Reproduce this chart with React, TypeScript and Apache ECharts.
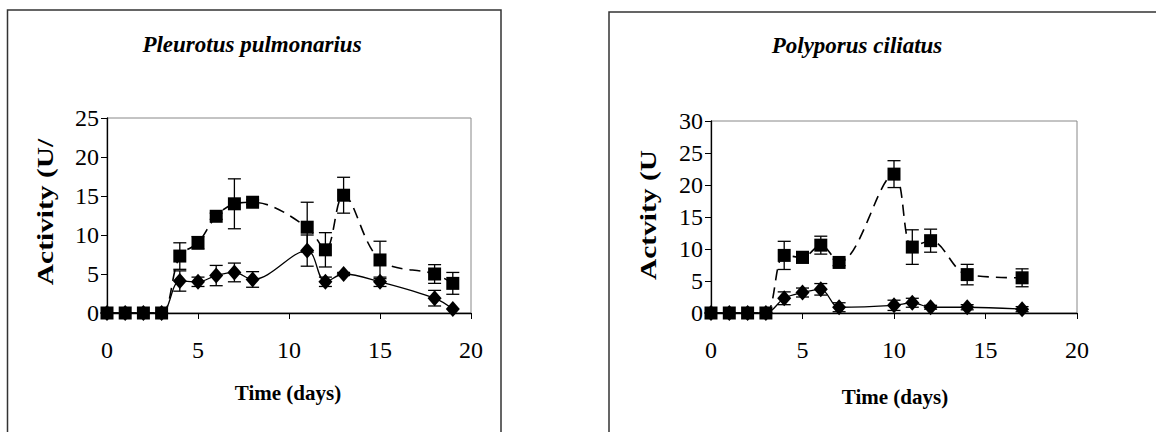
import React, { useEffect, useRef } from "react";
import * as echarts from "echarts";

// Pleurotus pulmonarius
const daysP = [0, 1, 2, 3, 4, 5, 6, 7, 8, 11, 12, 13, 15, 18, 19];
const squareP = [0, 0, 0, 0, 7.3, 9.0, 12.4, 14.0, 14.2, 11.0, 8.1, 15.1, 6.8, 5.0, 3.8];
const squareErrP = [0, 0, 0, 0, 1.7, 0.8, 0.4, 3.2, 0.3, 3.2, 2.2, 2.3, 2.4, 1.2, 1.4];
const diamondP = [0, 0, 0, 0, 4.1, 4.0, 4.8, 5.2, 4.3, 8.0, 4.0, 5.0, 4.0, 1.9, 0.5];
const diamondErrP = [0, 0, 0, 0, 1.3, 0.6, 1.3, 1.2, 1.0, 2.0, 0.6, 0.2, 0.6, 1.0, 0];

// Polyporus ciliatus
const daysC = [0, 1, 2, 3, 4, 5, 6, 7, 10, 11, 12, 14, 17];
const squareC = [0, 0, 0, 0, 9.0, 8.7, 10.6, 7.9, 21.7, 10.3, 11.3, 6.0, 5.5];
const squareErrC = [0, 0, 0, 0, 2.2, 0.9, 1.4, 0.5, 2.1, 2.7, 1.8, 1.6, 1.4];
const diamondC = [0, 0, 0, 0, 2.3, 3.2, 3.7, 0.9, 1.2, 1.6, 0.9, 0.9, 0.6];
const diamondErrC = [0, 0, 0, 0, 1.0, 0.7, 0.9, 0.7, 0.8, 0.7, 0.3, 0.4, 0.4];

const titles = ["Pleurotus pulmonarius", "Polyporus ciliatus"];
const yNames = ["Activity (U/", "Actvity (U"];
const xName = "Time (days)";
const xTicks = [0, 5, 10, 15, 20];
const yMaxes = [25, 30];

const SERIF = "Liberation Serif";

function pairs(xs: number[], ys: number[]) {
  return xs.map((x, i) => [x, ys[i]]);
}
function errData(xs: number[], ys: number[], es: number[]) {
  return xs
    .map((x, i) => [x, ys[i] - es[i], ys[i] + es[i]])
    .filter((d, i) => es[i] > 0);
}

const renderErr = (params: any, api: any) => {
  const x = api.value(0);
  const lo = api.value(1);
  const hi = api.value(2);
  const p1 = api.coord([x, hi]);
  const p2 = api.coord([x, lo]);
  const hw = 6.5;
  const st = { stroke: "#000", lineWidth: 1.3 };
  return {
    type: "group",
    children: [
      { type: "line", shape: { x1: p1[0], y1: p1[1], x2: p2[0], y2: p2[1] }, style: st },
      { type: "line", shape: { x1: p1[0] - hw, y1: p1[1], x2: p1[0] + hw, y2: p1[1] }, style: st },
      { type: "line", shape: { x1: p2[0] - hw, y1: p2[1], x2: p2[0] + hw, y2: p2[1] }, style: st },
    ],
  };
};

export default function App() {
  const ref = useRef<HTMLDivElement>(null);
  useEffect(() => {
    if (!ref.current) return;
    const chart = echarts.init(ref.current, null, { renderer: "svg" });
    const grids = [
      { left: 107, top: 118, width: 364, height: 195 },
      { left: 711, top: 121, width: 366, height: 192 },
    ];
    const axisCommon = {
      axisLine: { show: true, lineStyle: { color: "#000", width: 1.3 } },
      axisTick: { show: true, inside: false, length: 6, lineStyle: { color: "#000", width: 1 } },
      splitLine: { show: false },
    };
    const labelStyle = {
      color: "#000",
      fontFamily: SERIF,
      fontSize: 24,
      fontWeight: "normal",
      fontStyle: "normal",
    };
    const xAxes = [0, 1].map((i) => ({
      type: "value",
      gridIndex: i,
      min: 0,
      max: 20,
      interval: 5,
      ...axisCommon,
      axisLabel: {
        ...labelStyle,
        margin: 25,
        formatter: (v: number) => (xTicks.includes(v) ? String(v) : ""),
      },
    }));
    const yAxes = [0, 1].map((i) => ({
      type: "value",
      gridIndex: i,
      min: 0,
      max: yMaxes[i],
      interval: 5,
      ...axisCommon,
      axisLabel: { ...labelStyle, margin: 8 },
    }));
    const sets = [
      { d: daysP, s: squareP, se: squareErrP, m: diamondP, me: diamondErrP },
      { d: daysC, s: squareC, se: squareErrC, m: diamondC, me: diamondErrC },
    ];
    const series: any[] = [];
    sets.forEach((st, i) => {
      series.push({
        type: "custom",
        xAxisIndex: i,
        yAxisIndex: i,
        renderItem: renderErr,
        data: errData(st.d, st.s, st.se),
        encode: { x: 0, y: [1, 2] },
        z: 1,
        clip: false,
      });
      series.push({
        type: "custom",
        xAxisIndex: i,
        yAxisIndex: i,
        renderItem: renderErr,
        data: errData(st.d, st.m, st.me),
        encode: { x: 0, y: [1, 2] },
        z: 1,
        clip: false,
      });
      series.push({
        type: "line",
        xAxisIndex: i,
        yAxisIndex: i,
        data: pairs(st.d, st.s),
        smooth: 0.35,
        symbol: "rect",
        symbolSize: 13,
        itemStyle: { color: "#000" },
        lineStyle: { color: "#000", width: 1.6, type: [11, 7] },
        z: 3,
      });
      series.push({
        type: "line",
        xAxisIndex: i,
        yAxisIndex: i,
        data: pairs(st.d, st.m),
        smooth: 0.35,
        symbol: "diamond",
        symbolSize: [14, 16],
        itemStyle: { color: "#000" },
        lineStyle: { color: "#000", width: 1.3 },
        z: 4,
      });
    });
    const titleStyle = {
      fontFamily: SERIF,
      fontSize: 23,
      fontWeight: "bold",
      fontStyle: "italic",
      fill: "#000",
      align: "center",
      verticalAlign: "middle",
    };
    const nameStyle = {
      fontFamily: SERIF,
      fontSize: 23,
      fontWeight: "bold",
      fill: "#000",
      align: "center",
      verticalAlign: "middle",
    };
    chart.setOption({
      animation: false,
      textStyle: { fontFamily: SERIF, color: "#000" },
      grid: grids.map((g) => ({ ...g, show: true, borderColor: "#888", borderWidth: 1, backgroundColor: "transparent" })),
      xAxis: xAxes,
      yAxis: yAxes,
      series,
      graphic: [
        { type: "rect", shape: { x: 7.5, y: 10, width: 493.5, height: 440 }, style: { fill: "none", stroke: "#333", lineWidth: 1.5 }, silent: true },
        { type: "rect", shape: { x: 609, y: 12, width: 560, height: 440 }, style: { fill: "none", stroke: "#333", lineWidth: 1.5 }, silent: true },
        { type: "text", x: 252, y: 44, style: { ...titleStyle, text: titles[0] } },
        { type: "text", x: 857, y: 45, style: { ...titleStyle, text: titles[1] } },
        { type: "text", x: 45, y: 212, rotation: Math.PI / 2, scaleX: 1.28, style: { ...nameStyle, text: yNames[0] } },
        { type: "text", x: 648, y: 215, rotation: Math.PI / 2, scaleX: 1.28, style: { ...nameStyle, text: yNames[1] } },
        { type: "text", x: 288, y: 393, style: { ...nameStyle, fontSize: 21, text: xName } },
        { type: "text", x: 895, y: 397, style: { ...nameStyle, fontSize: 21, text: xName } },
      ],
    });
    return () => chart.dispose();
  }, []);
  return (
    <div
      ref={ref}
      style={{ position: "fixed", left: 0, top: 0, width: 1156, height: 432, background: "#fff" }}
    />
  );
}
